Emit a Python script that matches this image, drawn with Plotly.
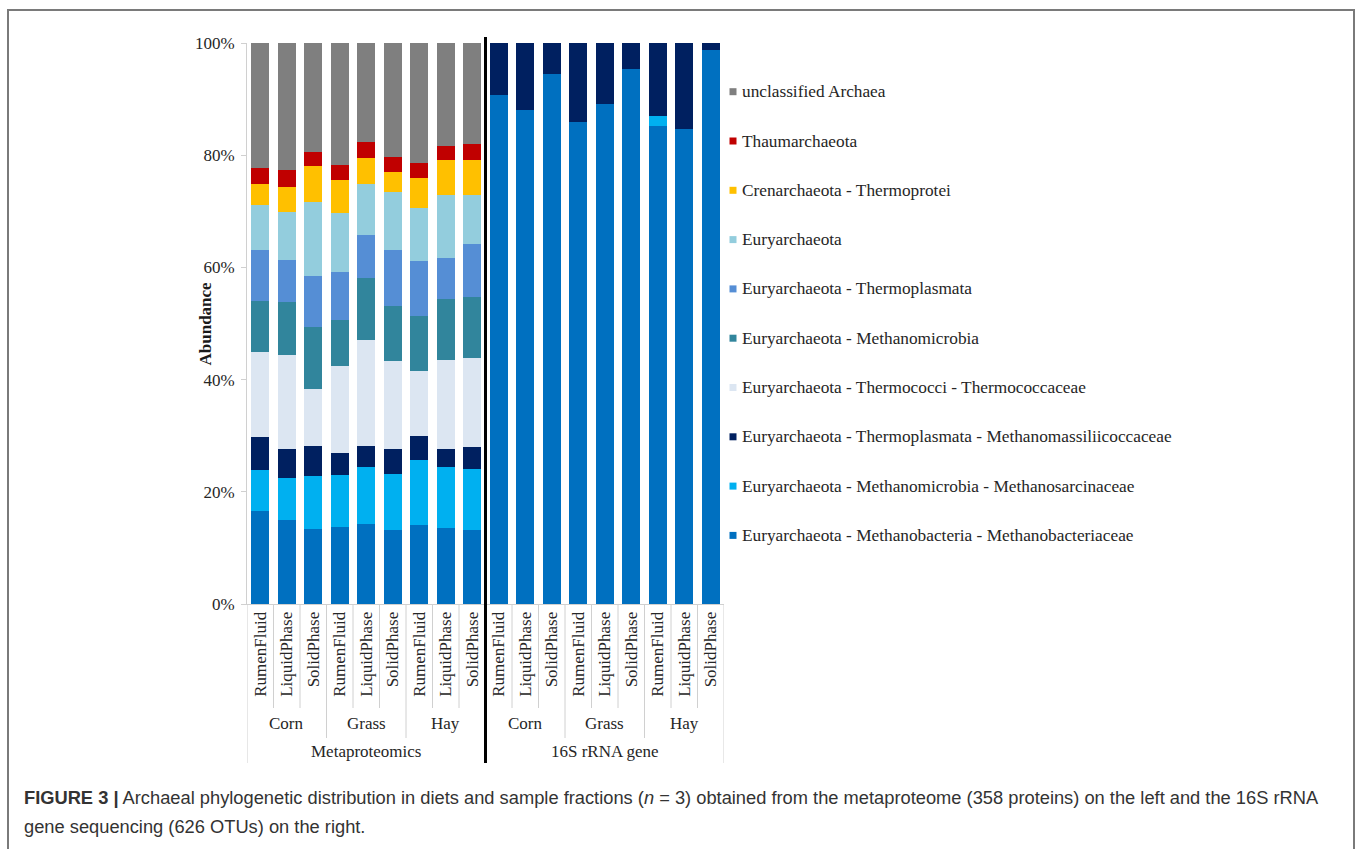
import plotly.graph_objects as go

# ---- data -------------------------------------------------------------
fractions = ["RumenFluid", "LiquidPhase", "SolidPhase"]
diets = ["Corn", "Grass", "Hay"]
methods = ["Metaproteomics", "16S rRNA gene"]

# relative abundance (%) per sample: 9 metaproteomics bars, then 9 16S bars
methanobacteriaceae = [16.5, 14.9, 13.3, 13.7, 14.2, 13.2, 14.0, 13.5, 13.2,
                       90.7, 88.0, 94.4, 85.9, 89.1, 95.3, 85.2, 84.6, 98.8]
methanosarcinaceae = [7.3, 7.5, 9.5, 9.3, 10.2, 10.0, 11.7, 10.9, 10.9,
                      0, 0, 0, 0, 0, 0, 1.7, 0, 0]
methanomassiliicoccaceae = [5.9, 5.2, 5.4, 3.9, 3.8, 4.5, 4.3, 3.3, 3.9,
                            9.3, 12.0, 5.6, 14.1, 10.9, 4.7, 13.1, 15.4, 1.2]
thermococcaceae = [15.3, 16.7, 10.1, 15.5, 18.8, 15.6, 11.5, 15.8, 15.8,
                   0, 0, 0, 0, 0, 0, 0, 0, 0]
methanomicrobia = [9.0, 9.5, 11.1, 8.2, 11.1, 9.9, 9.8, 10.9, 10.9,
                   0, 0, 0, 0, 0, 0, 0, 0, 0]
thermoplasmata = [9.1, 7.5, 9.1, 8.5, 7.6, 9.9, 9.8, 7.2, 9.4,
                  0, 0, 0, 0, 0, 0, 0, 0, 0]
euryarchaeota = [8.1, 8.6, 13.1, 10.6, 9.2, 10.3, 9.5, 11.3, 8.8,
                 0, 0, 0, 0, 0, 0, 0, 0, 0]
crenarchaeota = [3.7, 4.5, 6.5, 5.9, 4.6, 3.6, 5.3, 6.2, 6.3,
                 0, 0, 0, 0, 0, 0, 0, 0, 0]
thaumarchaeota = [2.9, 2.9, 2.5, 2.7, 2.8, 2.7, 2.7, 2.5, 2.8,
                  0, 0, 0, 0, 0, 0, 0, 0, 0]
unclassified = [22.2, 22.7, 19.4, 21.7, 17.7, 20.3, 21.4, 18.4, 18.0,
                0, 0, 0, 0, 0, 0, 0, 0, 0]

y_ticks = [0, 20, 40, 60, 80, 100]
y_ticklabels = ["0%", "20%", "40%", "60%", "80%", "100%"]

# stacking order, bottom to top
series = [
    ("Euryarchaeota - Methanobacteria - Methanobacteriaceae", methanobacteriaceae, "#0070c0"),
    ("Euryarchaeota - Methanomicrobia - Methanosarcinaceae", methanosarcinaceae, "#00b0f0"),
    ("Euryarchaeota - Thermoplasmata - Methanomassiliicoccaceae", methanomassiliicoccaceae, "#002060"),
    ("Euryarchaeota - Thermococci - Thermococcaceae", thermococcaceae, "#dce6f2"),
    ("Euryarchaeota - Methanomicrobia", methanomicrobia, "#31859c"),
    ("Euryarchaeota - Thermoplasmata", thermoplasmata, "#558ed5"),
    ("Euryarchaeota", euryarchaeota, "#93cddd"),
    ("Crenarchaeota - Thermoprotei", crenarchaeota, "#ffc000"),
    ("Thaumarchaeota", thaumarchaeota, "#c00000"),
    ("unclassified Archaea", unclassified, "#7f7f7f"),
]

# ---- geometry (pixels) ------------------------------------------------
W, H = 1358, 849
L, R, T, B = 247, 634, 43, 245
PW, PH = W - L - R, H - T - B


def px(x):
    return (x - L) / PW


def py(y):
    return (H - B - y) / PH


SERIF = "Liberation Serif, Times New Roman, serif"
TXT = "#262626"
GRID = "#d0d0d0"

n_bars = len(fractions) * len(diets) * len(methods)
labels = [f for _ in range(len(methods) * len(diets)) for f in fractions]
xs = list(range(n_bars))

fig = go.Figure()
for name, vals, color in series:
    fig.add_trace(go.Bar(
        x=xs, y=vals, name=name, marker=dict(color=color, line=dict(width=0)),
        showlegend=False,
    ))

fig.update_layout(
    width=W, height=H,
    margin=dict(l=L, r=R, t=T, b=B),
    barmode="stack", bargap=0.32,
    plot_bgcolor="white", paper_bgcolor="white",
    font=dict(family=SERIF, size=17, color=TXT),
    xaxis=dict(
        range=[-0.5, n_bars - 0.5], tickmode="array", tickvals=xs,
        ticktext=labels, tickangle=-90, ticks="", showgrid=False,
        showline=True, linecolor=GRID, linewidth=1, zeroline=False,
        tickfont=dict(family=SERIF, size=17, color=TXT),
    ),
    yaxis=dict(
        range=[0, 100], tickmode="array", tickvals=y_ticks,
        ticktext=y_ticklabels, ticks="outside", ticklen=5, tickcolor=GRID,
        ticklabelstandoff=3,
        showgrid=False, showline=True, linecolor=GRID, linewidth=1,
        zeroline=False, tickfont=dict(family=SERIF, size=17, color=TXT),
    ),
)

shapes = []
annotations = []

# multi-level category separators under the x axis
bottom_sample = py(708)
bottom_diet = py(738)
bottom_method = py(763)
n_half = n_bars // 2
for i in range(n_bars + 1):
    xb = i - 0.5
    if i == n_half:
        continue
    if i in (0, n_bars):
        y1 = bottom_method
    elif i % len(fractions) == 0:
        y1 = bottom_diet
    else:
        y1 = bottom_sample
    shapes.append(dict(type="line", xref="x", yref="paper", x0=xb, x1=xb,
                       y0=0, y1=y1, line=dict(color=GRID, width=1)))

# thick divider between the two methods
shapes.append(dict(type="line", xref="x", yref="paper",
                   x0=n_half - 0.5, x1=n_half - 0.5, y0=py(37), y1=bottom_method,
                   line=dict(color="black", width=3)))

# diet and method labels
for m, method in enumerate(methods):
    for d, diet in enumerate(diets):
        centre = m * n_half + d * len(fractions) + 1
        annotations.append(dict(text=diet, xref="x", yref="paper", x=centre,
                                y=py(723), showarrow=False, yanchor="middle",
                                font=dict(family=SERIF, size=17, color=TXT)))
    annotations.append(dict(text=method, xref="x", yref="paper",
                            x=m * n_half + (n_half - 1) / 2, y=py(752),
                            showarrow=False, yanchor="middle",
                            font=dict(family=SERIF, size=17, color=TXT)))

# axis title
annotations.append(dict(text="<b>Abundance</b>", xref="paper", yref="paper",
                        x=px(205), y=0.5, textangle=-90, showarrow=False,
                        xanchor="center", yanchor="middle",
                        font=dict(family=SERIF, size=17, color="#1a1a1a")))

# legend, top entry first
leg_x, leg_y0, leg_dy, sq = 733, 91.7, 49.3, 3.5
for k, (name, _, color) in enumerate(reversed(series)):
    yc = leg_y0 + k * leg_dy
    shapes.append(dict(type="rect", xref="paper", yref="paper",
                       x0=px(leg_x - sq), x1=px(leg_x + sq),
                       y0=py(yc + sq), y1=py(yc - sq),
                       fillcolor=color, line=dict(width=0)))
    annotations.append(dict(text=name, xref="paper", yref="paper",
                            x=px(leg_x + 7), y=py(yc), xanchor="left",
                            yanchor="middle", showarrow=False,
                            font=dict(family=SERIF, size=17.3, color=TXT)))

# figure frame
shapes.append(dict(type="rect", xref="paper", yref="paper",
                   x0=px(8), x1=px(1354), y0=py(10), y1=py(880),
                   line=dict(color="#7a7a7a", width=2), fillcolor="rgba(0,0,0,0)"))

# caption
CAP = "Liberation Sans, Arial, sans-serif"
cap1 = ("<b>FIGURE 3 |</b> Archaeal phylogenetic distribution in diets and sample "
        "fractions (<i>n</i> = 3) obtained from the metaproteome (358 proteins) on the "
        "left and the 16S rRNA")
cap2 = "gene sequencing (626 OTUs) on the right."
for text, yc in ((cap1, 797), (cap2, 826)):
    annotations.append(dict(text=text, xref="paper", yref="paper", x=px(22),
                            y=py(yc), xanchor="left", yanchor="middle",
                            showarrow=False,
                            font=dict(family=CAP, size=18.3, color="#333333")))

fig.update_layout(shapes=shapes, annotations=annotations)
fig.write_html("out.html")
